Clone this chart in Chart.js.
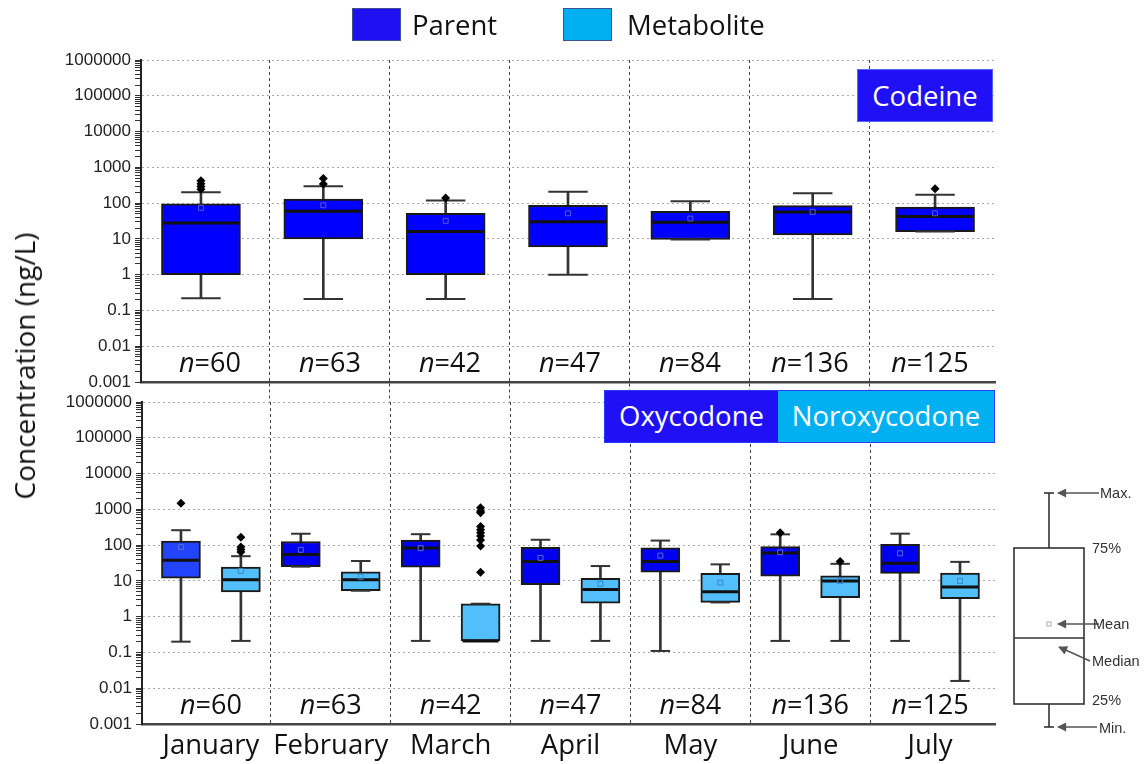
<!DOCTYPE html>
<html>
<head>
<meta charset="utf-8">
<script src="https://cdn.jsdelivr.net/npm/chart.js@4.4.1/dist/chart.umd.min.js"></script>
<style>
  html, body { margin: 0; padding: 0; background: #fff; }
  #wrap { position: relative; width: 1146px; height: 764px; overflow: hidden; background: #fff; font-family: "Open Sans", sans-serif; }
  #wrap canvas { position: absolute; left: 0; }
  #topChart { top: 0; }
  #bottomChart { top: 384px; }
  .swatch { position: absolute; top: 8px; width: 49px; height: 33px; box-sizing: border-box; border: 1.5px solid #3a5290; }
  .legend-text { position: absolute; top: 7px; font-size: 27.5px; line-height: 36px; color: #111; white-space: nowrap; }
  .tag { position: absolute; box-sizing: border-box; color: #fff; font-size: 27.5px; text-align: center; white-space: nowrap; z-index: 3; }
  #ytitle { position: absolute; left: 24px; top: 366px; transform: translate(-50%, -50%) rotate(-90deg); font-size: 28px; color: #111; white-space: nowrap; z-index: 3; }
  #key { position: absolute; left: 1000px; top: 470px; z-index: 3; }
</style>
</head>
<body>
<div id="wrap">
  <canvas id="bottomChart" width="1146" height="380"></canvas>
  <canvas id="topChart" width="1146" height="402"></canvas>

  <div class="swatch" style="left:352px;background:#1f10f2;"></div>
  <div class="legend-text" style="left:412px;">Parent</div>
  <div class="swatch" style="left:563px;background:#00b0f0;"></div>
  <div class="legend-text" style="left:627px;">Metabolite</div>

  <div class="tag" style="left:857px;top:69px;width:136px;height:53px;line-height:51px;background:#1f10f5;border:1px solid #5566ff;">Codeine</div>
  <div class="tag" style="left:604px;top:390px;width:391px;height:53px;border:1.5px solid #2a3cff;display:flex;">
    <div style="width:173px;height:100%;line-height:49px;background:#1f10f5;">Oxycodone</div>
    <div style="flex:1;height:100%;line-height:49px;background:#00b0f0;">Noroxycodone</div>
  </div>

  <div id="ytitle">Concentration (ng/L)</div>

  <svg id="key" width="146" height="294" viewBox="1000 470 146 294">
    <defs>
      <marker id="ah" viewBox="0 0 10 10" refX="9" refY="5" markerWidth="11" markerHeight="9" orient="auto" markerUnits="userSpaceOnUse">
        <path d="M0,0 L10,5 L0,10 z" fill="#555"/>
      </marker>
    </defs>
    <g stroke="#333" stroke-width="1.6" fill="none">
      <line x1="1049" y1="493" x2="1049" y2="548"/>
      <line x1="1049" y1="704" x2="1049" y2="727"/>
      <line x1="1044" y1="493" x2="1054" y2="493"/>
      <line x1="1044" y1="727" x2="1054" y2="727"/>
      <rect x="1014" y="548" width="70" height="156" fill="#fff"/>
      <line x1="1014" y1="638" x2="1084" y2="638"/>
    </g>
    <rect x="1047" y="622" width="4" height="4" fill="none" stroke="#aaa" stroke-width="1"/>
    <g stroke="#555" stroke-width="1.5" marker-end="url(#ah)">
      <line x1="1099" y1="493" x2="1058" y2="493"/>
      <line x1="1099" y1="624" x2="1058" y2="624"/>
      <line x1="1090" y1="661" x2="1059" y2="647"/>
      <line x1="1097" y1="727" x2="1058" y2="727"/>
    </g>
    <g font-family="Liberation Sans, Arial, sans-serif" font-size="14.5" fill="#333">
      <text x="1100" y="498">Max.</text>
      <text x="1092" y="553">75%</text>
      <text x="1093" y="629">Mean</text>
      <text x="1092" y="666">Median</text>
      <text x="1092" y="705">25%</text>
      <text x="1099" y="733">Min.</text>
    </g>
  </svg>
</div>

<script>
// ---- categories and tick labels ----
const months = ['January', 'February', 'March', 'April', 'May', 'June', 'July'];
const sampleCounts = [60, 63, 42, 47, 84, 136, 125];
const yTickLabels = ['0.001', '0.01', '0.1', '1', '10', '100', '1000', '10000', '100000', '1000000'];
const yMajorValues = [0.001, 0.01, 0.1, 1, 10, 100, 1000, 10000, 100000, 1000000];

// ---- Codeine (parent), ng/L ----
const codeineMin    = [0.22, 0.21, 0.21, 1.0, 9.6, 0.21, 16];
const codeineQ1     = [1.0, 10, 1.0, 6.0, 9.6, 13, 16];
const codeineMedian = [28, 59, 16, 30, 29, 56, 42];
const codeineQ3     = [95, 129, 52, 87, 59, 85, 77];
const codeineMax    = [200, 297, 118, 208, 113, 190, 170];
const codeineMean   = [74, 87, 32, 52, 37, 57, 52];
const codeineOutliers = [[420, 350, 290, 245], [490, 340], [140], [], [], [], [250]];

// ---- Oxycodone (parent), ng/L ----
const oxyMin    = [0.2, 25, 0.21, 0.21, 0.11, 0.21, 0.21];
const oxyQ1     = [12, 25, 24, 7.9, 17.4, 13.5, 16.3];
const oxyMedian = [38, 55, 83, 35, 35, 60, 31];
const oxyQ3     = [129, 126, 138, 87, 84, 91, 105];
const oxyMax    = [261, 208, 202, 141, 134, 200, 209];
const oxyMean   = [88, 74, 82, 44, 51, 63, 59];
const oxyOutliers = [[1470], [], [], [], [], [220], []];

// ---- Noroxycodone (metabolite), ng/L ----
const noroxyMin    = [0.21, 5.3, 0.21, 0.21, 2.5, 0.21, 0.016];
const noroxyQ1     = [4.95, 5.3, 0.21, 2.4, 2.5, 3.4, 3.2];
const noroxyMedian = [10.7, 10.7, 0.21, 5.7, 5.0, 10, 6.7];
const noroxyQ3     = [24.5, 17.8, 2.3, 11.8, 16.3, 13.8, 16.6];
const noroxyMax    = [49, 36, 2.3, 26, 29, 30, 34];
const noroxyMean   = [19, 13, null, 8.3, 8.9, 9.8, 10];
const noroxyOutliers = [[167, 88, 76, 64], [], [1100, 900, 800, 330, 270, 220, 180, 140, 95, 17.5], [], [], [35], []];

// ---- layout of the two panels ----
const X_MIN = -0.575, X_MAX = 6.542;     // month axis shared by both panels
const XB_MIN = -0.49, XB_MAX = 6.49;     // codeine box positions
const TOP_DIVIDERS = [0.5, 1.5, 2.5, 3.5, 4.5, 5.5];
const FONT = '"Open Sans", sans-serif';

function isDecade(v) {
  const l = Math.log10(v);
  return Math.abs(l - Math.round(l)) < 1e-9;
}

function logTicks() {
  const t = [];
  for (let k = -3; k <= 6; k++) {
    t.push({ value: Math.pow(10, k) });
    if (k < 6) for (let m = 2; m <= 9; m++) t.push({ value: m * Math.pow(10, k) });
  }
  return t;
}

function yAxis(width) {
  return {
    type: 'logarithmic',
    min: 0.001, max: 1000000,
    stacked: false,
    afterBuildTicks: (s) => { s.ticks = logTicks(); },
    afterFit: (s) => { s.width = width; },
    ticks: {
      autoSkip: false,
      padding: 4,
      color: '#222',
      font: { family: '"Liberation Sans", Arial, sans-serif', size: 17 },
      callback: (v) => {
        if (!isDecade(v)) return '';
        const i = yMajorValues.findIndex(m => Math.abs(m - v) / m < 1e-6);
        return i >= 0 ? yTickLabels[i] : '';
      }
    },
    grid: {
      color: (c) => (c.tick && isDecade(c.tick.value)) ? '#a8a8a8' : 'rgba(0,0,0,0)',
      lineWidth: 1,
      tickColor: '#333',
      tickLength: 6,
      tickWidth: 1
    },
    border: { display: true, color: '#222', width: 2, dash: [2, 3] }
  };
}

function boxDatasets(s, xs, look, xAxisID) {
  const pts = (arr) => arr.map((v, i) => ({ x: xs[i], y: v })).filter(p => p.y != null);
  const whiskers = xs.map((x, i) => ({ x, y: [s.min[i], s.max[i]] }));
  const boxes = xs.map((x, i) => ({ x, y: [s.q1[i], s.q3[i]] }));
  const outliers = [];
  s.outliers.forEach((list, i) => list.forEach(v => outliers.push({ x: xs[i], y: v })));
  return [
    { type: 'bar', label: look.name + ' range', data: whiskers, xAxisID, stack: 's', order: 5,
      barThickness: 2, backgroundColor: '#333', borderWidth: 0 },
    { type: 'bar', label: look.name, data: boxes, xAxisID, stack: 's', order: 4,
      barThickness: look.width, backgroundColor: look.fill, borderColor: '#1a1a1a',
      borderWidth: 2, borderSkipped: false },
    { type: 'scatter', label: look.name + ' caps', data: pts(s.max).concat(pts(s.min)), xAxisID, order: 3,
      pointStyle: 'line', radius: look.width / 4, borderWidth: 2, borderColor: '#333' },
    { type: 'scatter', label: look.name + ' median', data: pts(s.median), xAxisID, order: 2,
      pointStyle: 'line', radius: look.width / 2 - 1.5, borderWidth: 3, borderColor: '#111' },
    { type: 'scatter', label: look.name + ' mean', data: pts(s.mean), xAxisID, order: 1,
      pointStyle: 'rect', radius: 3.5, backgroundColor: 'rgba(0,0,0,0)', borderColor: look.meanColor, borderWidth: 1 },
    { type: 'scatter', label: look.name + ' outliers', data: outliers, xAxisID, order: 0,
      pointStyle: 'rectRot', radius: 4.5, backgroundColor: '#000', borderColor: '#000', borderWidth: 0 }
  ];
}

// "n=…" counts along the bottom of each panel
const countLabels = {
  id: 'countLabels',
  afterDraw(chart) {
    const { ctx, chartArea } = chart;
    const xs = chart.scales.x;
    const y = chartArea.bottom - 10;
    ctx.save();
    ctx.fillStyle = '#111';
    ctx.textBaseline = 'alphabetic';
    sampleCounts.forEach((n, i) => {
      const cx = xs.getPixelForValue(i);
      const a = 'n', b = '=' + n;
      ctx.font = 'italic 27px ' + FONT;
      const wa = ctx.measureText(a).width;
      ctx.font = '27px ' + FONT;
      const wb = ctx.measureText(b).width;
      const x0 = cx - (wa + wb) / 2;
      ctx.font = 'italic 27px ' + FONT;
      ctx.fillText(a, x0, y);
      ctx.font = '27px ' + FONT;
      ctx.fillText(b, x0 + wa, y);
    });
    ctx.restore();
  }
};

const common = {
  responsive: false,
  devicePixelRatio: 1,
  animation: false,
  events: [],
  plugins: { legend: { display: false }, tooltip: { enabled: false } }
};

// ---- top panel: Codeine ----
const monthPos = months.map((_, i) => i);
new Chart(document.getElementById('topChart'), {
  type: 'bar',
  data: {
    datasets: boxDatasets(
      { min: codeineMin, q1: codeineQ1, median: codeineMedian, q3: codeineQ3, max: codeineMax, mean: codeineMean, outliers: codeineOutliers },
      monthPos, { name: 'Codeine', width: 79, fill: '#0000ff', meanColor: '#5a5ad8' }, 'xb')
  },
  options: Object.assign({}, common, {
    layout: { autoPadding: false, padding: { left: 0, top: 60, right: 151, bottom: 0 } },
    scales: {
      x: {
        type: 'linear', min: X_MIN, max: X_MAX, offset: false, stacked: true,
        afterBuildTicks: (s) => { s.ticks = TOP_DIVIDERS.map(v => ({ value: v })); },
        afterFit: (s) => { s.height = 20; },
        ticks: { display: false },
        grid: { offset: false, color: '#444', lineWidth: 1, tickLength: 20, tickColor: '#444', tickBorderDash: [3, 3] },
        border: { display: true, color: '#444', width: 2.5, dash: [3, 3] }
      },
      xb: {
        type: 'linear', min: XB_MIN, max: XB_MAX, offset: false, stacked: true, display: false,
        grid: { offset: false }
      },
      y: yAxis(141)
    }
  }),
  plugins: [countLabels]
});

// ---- bottom panel: Oxycodone / Noroxycodone ----
const parentPos = months.map((_, i) => i - 0.25);
const metabolitePos = months.map((_, i) => i + 0.25);
const bottomTicks = [];
months.forEach((_, i) => { bottomTicks.push(i); if (i < months.length - 1) bottomTicks.push(i + 0.5); });

new Chart(document.getElementById('bottomChart'), {
  type: 'bar',
  data: {
    datasets: boxDatasets(
      { min: oxyMin, q1: oxyQ1, median: oxyMedian, q3: oxyQ3, max: oxyMax, mean: oxyMean, outliers: oxyOutliers },
      parentPos, { name: 'Oxycodone', width: 39, fill: ['#2244ff', '#0000f0', '#0000f0', '#0000f0', '#0000f0', '#0000f0', '#0000f0'], meanColor: '#5a6ad8' }, 'x')
      .concat(boxDatasets(
      { min: noroxyMin, q1: noroxyQ1, median: noroxyMedian, q3: noroxyQ3, max: noroxyMax, mean: noroxyMean, outliers: noroxyOutliers },
      metabolitePos, { name: 'Noroxycodone', width: 39, fill: '#52bffa', meanColor: '#3a86c6' }, 'x'))
  },
  options: Object.assign({}, common, {
    layout: { autoPadding: false, padding: { left: 0, top: 18, right: 151, bottom: 0 } },
    scales: {
      x: {
        type: 'linear', min: X_MIN, max: X_MAX, offset: false, stacked: true,
        afterBuildTicks: (s) => { s.ticks = bottomTicks.map(v => ({ value: v })); },
        afterFit: (s) => { s.height = 40; },
        ticks: {
          autoSkip: false, maxRotation: 0, padding: 6, color: '#111',
          font: { family: FONT, size: 27.5 },
          callback: (v) => Number.isInteger(v) ? months[v] : ''
        },
        grid: {
          offset: false, drawTicks: false, lineWidth: 1,
          color: (c) => (c.tick && !Number.isInteger(c.tick.value)) ? '#444' : 'rgba(0,0,0,0)'
        },
        border: { display: true, color: '#444', width: 2.5, dash: [3, 3] }
      },
      y: yAxis(142)
    }
  }),
  plugins: [countLabels]
});
</script>
</body>
</html>
